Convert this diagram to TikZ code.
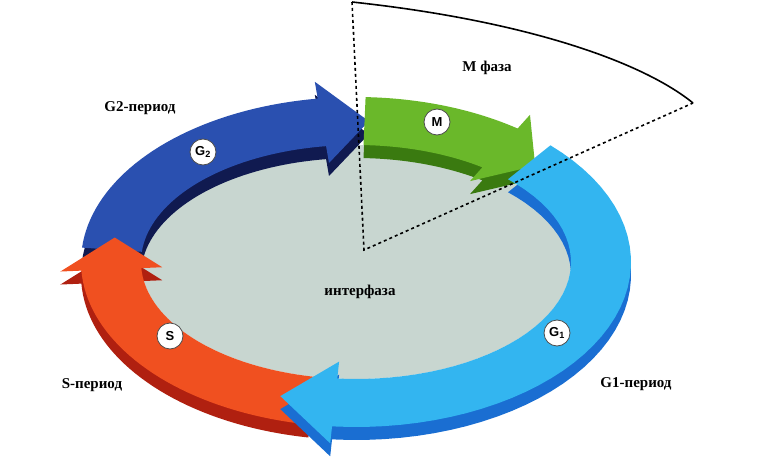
\documentclass[tikz,border=0pt]{standalone}
\usepackage{fontspec}
\setmainfont{Liberation Serif}
\newfontfamily\lab{Liberation Sans}
\definecolor{colGtwo}{RGB}{42,80,176}\definecolor{sideGtwo}{RGB}{16,26,80}
\definecolor{colM}{RGB}{106,184,42}\definecolor{sideM}{RGB}{58,122,16}
\definecolor{colS}{RGB}{240,80,32}\definecolor{sideS}{RGB}{176,32,16}
\definecolor{colGone}{RGB}{51,181,240}\definecolor{sideGone}{RGB}{26,110,210}
\definecolor{colIn}{RGB}{200,214,208}
\begin{document}
\begin{tikzpicture}[x=1pt,y=-1pt,
  lbl/.style={font=\bfseries\fontsize{15}{17}\selectfont},
  badge/.style={circle,fill=white,draw=black!70,line width=0.8pt,minimum size=26pt,inner sep=0pt,font=\lab\bfseries\fontsize{13}{15}\selectfont}]
\useasboundingbox (0,0) rectangle (784,460);
\newcommand\segpath[3]{plot[domain=#1:#2,samples=40] ({356+275*cos(\x)},{262+165*sin(\x)})
 -- ({356+296*cos(#2)},{262+182*sin(#2)}) -- ({356+245*cos(#3)},{262+141*sin(#3)})
 -- ({356+194*cos(#2)},{262+100*sin(#2)})
 -- plot[domain=#2:#1,samples=40] ({356+215*cos(\x)},{262+117*sin(\x)}) -- cycle}
\newcommand\seg[5]{\begin{scope}[yshift=-13pt]\fill[fill=#5] \segpath{#1}{#2}{#3};\end{scope}
 \fill[fill=#4] \segpath{#1}{#2}{#3};}
\fill[fill=colIn] (356,262) ellipse [x radius=215, y radius=117];
\seg{185}{262}{273}{colGtwo}{sideGtwo}
\seg{272}{306}{317}{colM}{sideM}
\seg{100}{177}{190}{colS}{sideS}
\seg{315}{455}{468}{colGone}{sideGone}
\coordinate (c) at (364,250);
\coordinate (t) at (352,2);
\coordinate (r) at (693,103);
\draw[dashed,line width=1.6pt] (t) -- (c) -- (r);
\draw[line width=1.6pt] (t) .. controls (520,20) and (640,60) .. (r);
\node[badge] (m) at (437,122) {M};
\node[badge] (g2) at (203,152) {G\textsubscript{2}};
\node[badge] (s) at (170,336) {S};
\node[badge] (g1) at (557,333) {G\textsubscript{1}};
\node[lbl] (l1) at (140,108) {G2-период};
\node[lbl] (l2) at (487,68) {M фаза};
\node[lbl] (l3) at (360,292) {интерфаза};
\node[lbl] (l4) at (92,385) {S-период};
\node[lbl] (l5) at (636,384) {G1-период};
\end{tikzpicture}
\end{document}
